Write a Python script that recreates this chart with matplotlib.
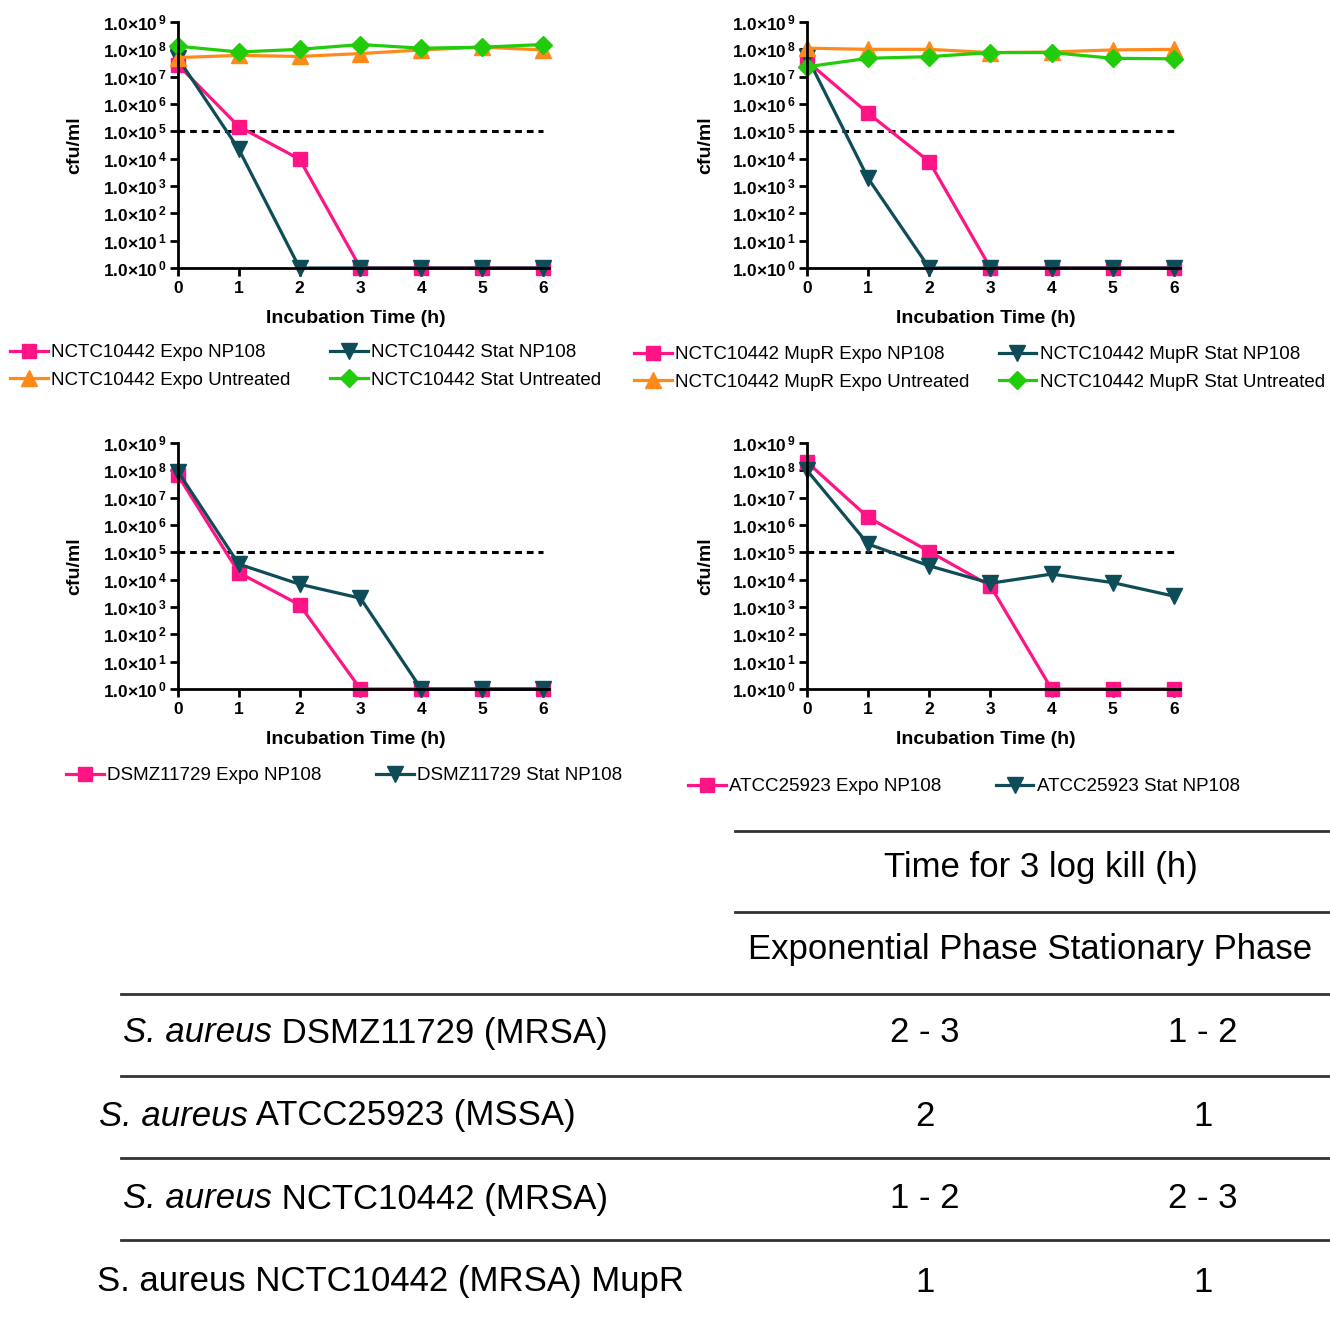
import matplotlib
matplotlib.use("Agg")
import matplotlib.pyplot as plt
from matplotlib.ticker import NullLocator

plt.rcParams["font.family"] = ["Liberation Sans", "DejaVu Sans"]
plt.rcParams["mathtext.fontset"] = "custom"
plt.rcParams["mathtext.rm"] = "Liberation Sans"
plt.rcParams["mathtext.it"] = "Liberation Sans:italic"
plt.rcParams["mathtext.bf"] = "Liberation Sans:bold"
plt.rcParams["mathtext.default"] = "regular"

# ---------------------------------------------------------------------------
# data (cfu/ml)
# ---------------------------------------------------------------------------
hours = [0, 1, 2, 3, 4, 5, 6]
detection_limit = 1e5
exponents = list(range(0, 10))

nctc_expo_np108 = [2.7e7, 1.5e5, 9.5e3, 1, 1, 1, 1]
nctc_stat_np108 = [4.7e7, 2.2e4, 1, 1, 1, 1, 1]
nctc_expo_untreated = [5e7, 6e7, 5.5e7, 7e7, 9.5e7, 1.2e8, 9.5e7]
nctc_stat_untreated = [1.3e8, 8e7, 1e8, 1.5e8, 1.1e8, 1.2e8, 1.5e8]

mupr_expo_np108 = [3.7e7, 4.6e5, 7.8e3, 1, 1, 1, 1]
mupr_stat_np108 = [5.4e7, 1.9e3, 1, 1, 1, 1, 1]
mupr_expo_untreated = [1.1e8, 1e8, 1e8, 7.6e7, 8e7, 9.5e7, 1e8]
mupr_stat_untreated = [2.3e7, 4.7e7, 5.4e7, 7.6e7, 7.6e7, 4.7e7, 4.5e7]

dsmz_expo_np108 = [6.5e7, 1.8e4, 1.2e3, 1, 1, 1, 1]
dsmz_stat_np108 = [9e7, 3.7e4, 6.8e3, 2.1e3, 1, 1, 1]

atcc_expo_np108 = [2e8, 1.9e6, 1.07e5, 5.9e3, 1, 1, 1]
atcc_stat_np108 = [1e8, 2e5, 3.2e4, 7.4e3, 1.6e4, 7.8e3, 2.5e3]

table_header = "Time for 3 log kill (h)"
table_subheader = "Exponential Phase Stationary Phase"
# (italic part, upright part)
strain_labels = [
    ("S. aureus", " DSMZ11729 (MRSA)"),
    ("S. aureus", " ATCC25923 (MSSA)"),
    ("S. aureus", " NCTC10442 (MRSA)"),
    ("", "S. aureus NCTC10442 (MRSA) MupR"),
]
expo_kill = ["2 - 3", "2", "1 - 2", "1"]
stat_kill = ["1 - 2", "1", "2 - 3", "1"]

PINK = "#ff1485"
NAVY = "#0e4c57"
ORANGE = "#ff8a1c"
GREEN = "#22cc0c"

W, H = 1330, 1317
fig = plt.figure(figsize=(W / 100, H / 100), dpi=100)


def px_axes(left, top, right, bottom):
    return fig.add_axes([left / W, 1 - bottom / H, (right - left) / W, (bottom - top) / H])


def panel(ax, series, ylab_x):
    for vals, color, marker, ms, label in series:
        ax.plot(hours, vals, color=color, lw=2.3, marker=marker, ms=ms,
                label=label, clip_on=False)
    ax.plot([hours[0], hours[-1]], [detection_limit, detection_limit],
            color="black", lw=2.2, ls=(0, (2.2, 1.6)), zorder=1)
    ax.set_yscale("log")
    ax.set_ylim(1, 1e9)
    ax.set_xlim(0, 6.1)
    ax.set_yticks([10.0 ** e for e in exponents])
    ax.set_yticklabels([r"$1.0{\times}10^{\,%d}$" % e for e in exponents])
    ax.yaxis.set_minor_locator(NullLocator())
    ax.set_xticks(hours)
    ax.set_xticklabels([str(h) for h in hours])
    for s in ("top", "right"):
        ax.spines[s].set_visible(False)
    for s in ("left", "bottom"):
        ax.spines[s].set_linewidth(2.0)
    ax.tick_params(width=2.0, length=5.5, pad=2.5, labelsize=12.5)
    ax.tick_params(axis="x", pad=4)
    for t in ax.get_xticklabels() + ax.get_yticklabels():
        t.set_fontweight("bold")
    ax.set_xlabel("Incubation Time (h)", fontsize=14, fontweight="bold")
    ax.set_ylabel("cfu/ml", fontsize=14, fontweight="bold")
    ax.xaxis.set_label_coords(0.48, -0.172)
    ax.yaxis.set_label_coords(ylab_x, 0.5)


def legend(ax, handles_order, x, y, colsp):
    h, l = ax.get_legend_handles_labels()
    h = [h[i] for i in handles_order]
    l = [l[i] for i in handles_order]
    ax.legend(h, l, ncol=2, loc="upper left", bbox_to_anchor=(x / W, 1 - y / H),
              bbox_transform=fig.transFigure, frameon=False, fontsize=13.5,
              borderpad=0, borderaxespad=0, handlelength=2.0, handletextpad=0.2,
              columnspacing=colsp, labelspacing=0.55)


ax1 = px_axes(178, 22, 549, 268)
panel(ax1, [
    (nctc_expo_np108, PINK, "s", 10, "NCTC10442 Expo NP108"),
    (nctc_stat_np108, NAVY, "v", 11, "NCTC10442 Stat NP108"),
    (nctc_expo_untreated, ORANGE, "^", 11, "NCTC10442 Expo Untreated"),
    (nctc_stat_untreated, GREEN, "D", 9, "NCTC10442 Stat Untreated"),
], -0.256)
legend(ax1, [0, 2, 1, 3], 10, 344, 2.1)

ax2 = px_axes(807, 22, 1180, 268)
panel(ax2, [
    (mupr_expo_np108, PINK, "s", 10, "NCTC10442 MupR Expo NP108"),
    (mupr_stat_np108, NAVY, "v", 11, "NCTC10442 MupR Stat NP108"),
    (mupr_expo_untreated, ORANGE, "^", 11, "NCTC10442 MupR Expo Untreated"),
    (mupr_stat_untreated, GREEN, "D", 9, "NCTC10442 MupR Stat Untreated"),
], -0.249)
legend(ax2, [0, 2, 1, 3], 634, 346, 1.55)

ax3 = px_axes(178, 443, 549, 689)
panel(ax3, [
    (dsmz_expo_np108, PINK, "s", 10, "DSMZ11729 Expo NP108"),
    (dsmz_stat_np108, NAVY, "v", 11, "DSMZ11729 Stat NP108"),
], -0.256)
legend(ax3, [0, 1], 66, 767, 2.9)

ax4 = px_axes(807, 443, 1180, 689)
panel(ax4, [
    (atcc_expo_np108, PINK, "s", 10, "ATCC25923 Expo NP108"),
    (atcc_stat_np108, NAVY, "v", 11, "ATCC25923 Stat NP108"),
], -0.249)
legend(ax4, [0, 1], 688, 778, 2.9)

# ---------------------------------------------------------------------------
# table (pixel coordinates)
# ---------------------------------------------------------------------------
tab = fig.add_axes([0, 0, 1, 1])
tab.set_xlim(0, W)
tab.set_ylim(H, 0)
tab.axis("off")

rule = dict(color="#333333", lw=2.0)
tab.plot([735, W], [831, 831], **rule)
tab.plot([735, W], [912, 912], **rule)
row_lines = [994, 1076, 1158, 1240]
for yy in row_lines:
    tab.plot([121, W], [yy, yy], **rule)

fs = 25
tab.text(1041, 867, table_header, ha="center", va="center", fontsize=fs)
tab.text(748, 949, table_subheader, ha="left", va="center", fontsize=fs)

row_y = [1033, 1116, 1199, 1282]
label_x = [123, 99, 123, 97]
for i, (ital, rest) in enumerate(strain_labels):
    if ital:
        t = tab.text(label_x[i], row_y[i], ital, ha="left", va="center",
                     fontsize=fs, style="italic")
        tab.annotate(rest, xy=(1, 0), xycoords=t, ha="left", va="bottom",
                     fontsize=fs)
    else:
        tab.text(label_x[i], row_y[i], rest, ha="left", va="center", fontsize=fs)
    tab.text(925, row_y[i], expo_kill[i], ha="center", va="center", fontsize=fs)
    tab.text(1203, row_y[i], stat_kill[i], ha="center", va="center", fontsize=fs)

fig.savefig("out.png", dpi=100)
